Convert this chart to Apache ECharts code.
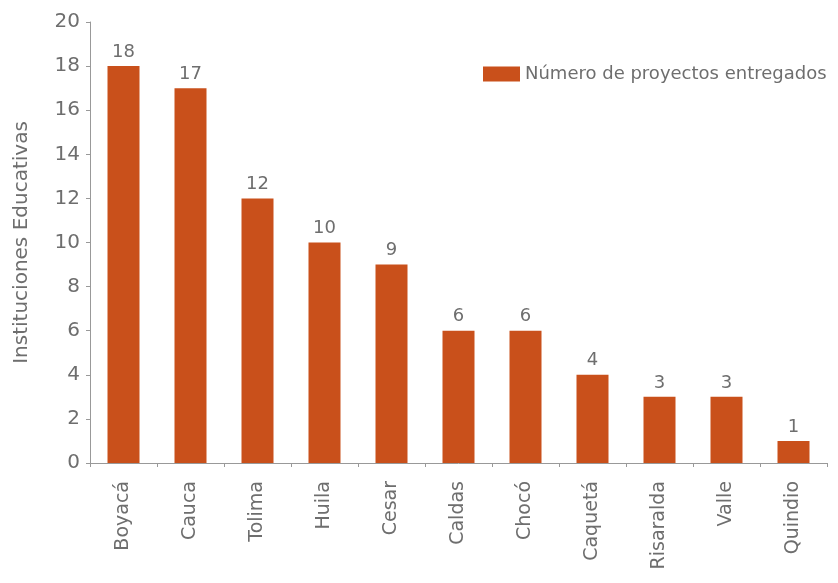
<!DOCTYPE html>
<html>
<head>
<meta charset="utf-8">
<script src="https://cdn.jsdelivr.net/npm/echarts@6/dist/echarts.min.js"></script>
<style>
  html, body { margin: 0; padding: 0; background: #fff; }
  #chart { width: 838px; height: 583px; }
</style>
</head>
<body>
<div id="chart"></div>
<script>
  var departamentos = ['Boyacá', 'Cauca', 'Tolima', 'Huila', 'Cesar', 'Caldas', 'Chocó', 'Caquetá', 'Risaralda', 'Valle', 'Quindio'];
  var proyectos = [18, 17, 12, 10, 9, 6, 6, 4, 3, 3, 1];

  var fuente = '"DejaVu Sans", sans-serif';
  var gris = '#6e6e6e';

  var option = {
    backgroundColor: '#fff',
    textStyle: { fontFamily: fuente },
    legend: {
      top: 60,
      left: 478,
      icon: 'rect',
      itemWidth: 37,
      itemHeight: 15,
      itemGap: 8,
      textStyle: { fontSize: 18, color: gris, fontFamily: fuente },
      data: ['Número de proyectos entregados']
    },
    grid: { left: 90, right: 11, top: 22, bottom: 120 },
    xAxis: {
      type: 'category',
      data: departamentos,
      axisLine: { lineStyle: { color: '#999' } },
      axisTick: { show: true, length: 4, lineStyle: { color: '#999' } },
      axisLabel: { rotate: 90, fontSize: 19, color: gris, margin: 18, fontFamily: fuente }
    },
    yAxis: {
      type: 'value',
      min: 0,
      max: 20,
      interval: 2,
      name: 'Instituciones Educativas',
      nameLocation: 'middle',
      nameGap: 58,
      nameTextStyle: { fontSize: 20, color: gris, fontFamily: fuente },
      axisLine: { show: true, lineStyle: { color: '#999' } },
      axisTick: { show: true, length: 4, lineStyle: { color: '#999' } },
      axisLabel: { fontSize: 20, color: gris, margin: 10, fontFamily: fuente },
      splitLine: { show: false }
    },
    series: [{
      name: 'Número de proyectos entregados',
      type: 'bar',
      data: proyectos,
      barWidth: 32,
      itemStyle: { color: '#c9501b' },
      label: {
        show: true,
        position: 'top',
        distance: 5,
        fontSize: 18,
        color: gris,
        fontFamily: fuente
      }
    }]
  };

  var chart = echarts.init(document.getElementById('chart'));
  chart.setOption(option);
</script>
</body>
</html>
